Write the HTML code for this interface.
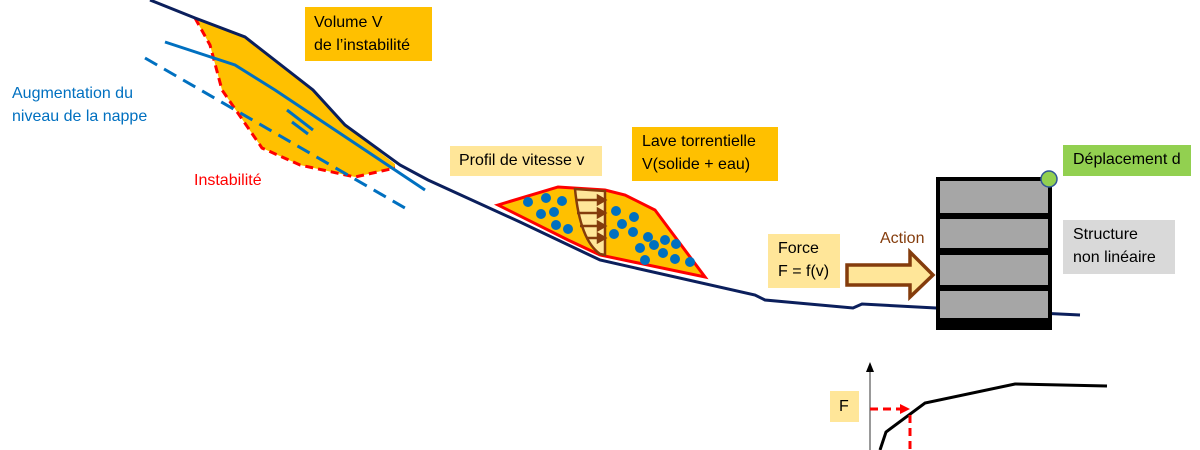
<!DOCTYPE html>
<html><head><style>
body{margin:0;width:1200px;height:450px;overflow:hidden;background:#fff;font-family:"Liberation Sans",sans-serif}
.b{position:absolute;font-size:16px;line-height:23px;color:#000;white-space:nowrap}
</style></head><body>
<svg width="1200" height="450" style="position:absolute;left:0;top:0">
<polygon points="195,18 245,37 313,90 345,125 395,164 395,168 355,177 300,165 262,148 222,90 210,45" fill="#ffc000"/>
<polyline points="195,18 210,45 222,90 262,148 300,165 355,177 395,168" fill="none" stroke="#f00" stroke-width="3" stroke-dasharray="8,5"/>
<polyline points="165,42 235,65 275,90 395,170 425,190" fill="none" stroke="#0070c0" stroke-width="3"/>
<line x1="145" y1="58" x2="405" y2="208" stroke="#0070c0" stroke-width="3" stroke-dasharray="14,8"/>
<line x1="287" y1="110" x2="313" y2="130" stroke="#0070c0" stroke-width="3"/>
<line x1="292" y1="122" x2="308" y2="134" stroke="#0070c0" stroke-width="3"/>
<polyline points="150,0 195,18 245,37 313,90 345,125 400,165 428,180 520,222 600,260 755,295 765,300 853,308 862,304 936,308 1080,315" fill="none" stroke="#0b1f5c" stroke-width="3"/>
<polygon points="498,205 558,187 605,190 625,195 655,210 705,277 600,255 568,240" fill="#ffc000" stroke="#f00" stroke-width="3"/>
<path d="M575,189 L605,191 L605,255 L600,254 Q580,240 575,189 Z" fill="#ffe699" stroke="#843c0c" stroke-width="2.5"/>
<g stroke="#843c0c" stroke-width="2.5" fill="#843c0c">
<line x1="576" y1="200" x2="598" y2="200"/><polygon points="598,196 605,200 598,204"/>
<line x1="577" y1="213" x2="598" y2="213"/><polygon points="598,209 605,213 598,217"/>
<line x1="580" y1="226" x2="598" y2="226"/><polygon points="598,222 605,226 598,230"/>
<line x1="586" y1="238" x2="598" y2="238"/><polygon points="598,234 605,238 598,242"/>
</g>
<g fill="#0070c0">
<circle cx="528" cy="202" r="5"/><circle cx="546" cy="198" r="5"/><circle cx="562" cy="201" r="5"/>
<circle cx="541" cy="214" r="5"/><circle cx="554" cy="212" r="5"/><circle cx="556" cy="225" r="5"/><circle cx="568" cy="229" r="5"/>
<circle cx="616" cy="211" r="5"/><circle cx="634" cy="217" r="5"/><circle cx="622" cy="224" r="5"/><circle cx="614" cy="234" r="5"/>
<circle cx="633" cy="232" r="5"/><circle cx="648" cy="237" r="5"/><circle cx="665" cy="240" r="5"/><circle cx="676" cy="244" r="5"/>
<circle cx="640" cy="248" r="5"/><circle cx="654" cy="245" r="5"/><circle cx="663" cy="253" r="5"/><circle cx="675" cy="259" r="5"/>
<circle cx="645" cy="260" r="5"/><circle cx="690" cy="262" r="5"/>
</g>
<polygon points="847,265 910,265 910,252 933,275 910,297 910,285 847,285" fill="#ffe699" stroke="#843c0c" stroke-width="3.5"/>
<rect x="936" y="177" width="116" height="153" fill="#000"/>
<rect x="940" y="181" width="108" height="32" fill="#a6a6a6"/>
<rect x="940" y="219" width="108" height="29" fill="#a6a6a6"/>
<rect x="940" y="255" width="108" height="30" fill="#a6a6a6"/>
<rect x="940" y="291" width="108" height="27" fill="#a6a6a6"/>
<circle cx="1049" cy="179" r="8" fill="#92d050" stroke="#2f5597" stroke-width="1.5"/>
<line x1="870" y1="450" x2="870" y2="368" stroke="#555" stroke-width="1.2"/>
<polygon points="866,372 870,362 874,372" fill="#000"/>
<polyline points="880,450 886,432 925,403 1015,384 1107,386" fill="none" stroke="#000" stroke-width="3"/>
<line x1="870" y1="409" x2="902" y2="409" stroke="#f00" stroke-width="3" stroke-dasharray="8,5"/>
<polygon points="900,404 910,409 900,414" fill="#f00"/>
<line x1="910" y1="415" x2="910" y2="450" stroke="#f00" stroke-width="3" stroke-dasharray="8,5"/>
</svg>
<div class="b" style="left:305px;top:7px;width:127px;height:54px;background:#ffc000;padding:4px 0 0 9px;box-sizing:border-box">Volume V<br>de l’instabilité</div>
<div class="b" style="left:12px;top:82px;color:#0070c0">Augmentation du<br>niveau de la nappe</div>
<div class="b" style="left:194px;top:169px;color:#f00">Instabilité</div>
<div class="b" style="left:450px;top:146px;width:152px;height:30px;background:#ffe699;padding:3px 0 0 9px;box-sizing:border-box">Profil de vitesse v</div>
<div class="b" style="left:632px;top:127px;width:146px;height:54px;background:#ffc000;padding:3px 0 0 10px;box-sizing:border-box">Lave torrentielle<br>V(solide + eau)</div>
<div class="b" style="left:768px;top:234px;width:72px;height:54px;background:#ffe699;padding:3px 0 0 10px;box-sizing:border-box">Force<br>F = f(v)</div>
<div class="b" style="left:880px;top:227px;color:#843c0c">Action</div>
<div class="b" style="left:1063px;top:145px;width:128px;height:31px;background:#92d050;padding:3px 0 0 10px;box-sizing:border-box">Déplacement d</div>
<div class="b" style="left:1063px;top:220px;width:112px;height:54px;background:#d9d9d9;padding:3px 0 0 10px;box-sizing:border-box">Structure<br>non linéaire</div>
<div class="b" style="left:830px;top:391px;width:29px;height:31px;background:#ffe699;padding:4px 0 0 9px;box-sizing:border-box">F</div>
</body></html>
